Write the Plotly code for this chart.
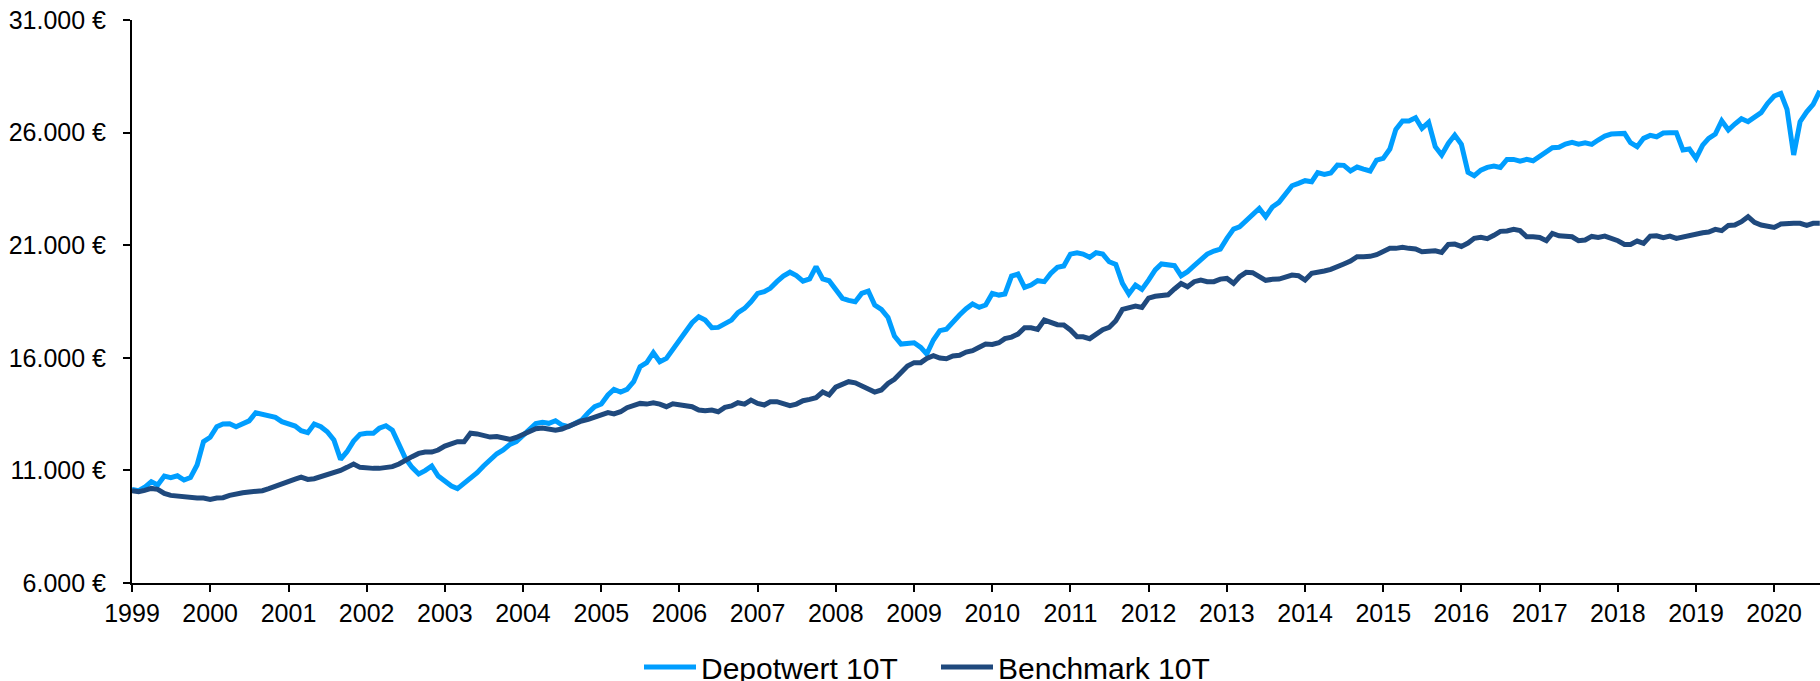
import pandas as pd
import plotly.graph_objects as go

# Monthly values, Jan 1999 .. Aug 2020
depotwert = [
    10150, 10100, 10250, 10500, 10350, 10750, 10680, 10760, 10570, 10680, 11240, 12275,  # 1999
    12470, 12940, 13060, 13075, 12940, 13060, 13200, 13560, 13500, 13470, 13355, 13165,  # 2000
    13090, 12970, 12760, 12675, 13060, 12940, 12720, 12350, 11490, 11830, 12300, 12600,  # 2001
    12645, 12645, 12870, 12985, 12790, 12200, 11535, 11135, 10840, 10990, 11195, 10750,  # 2002
    10500, 10305, 10190, 10425, 10690, 10900, 11195, 11460, 11740, 11905, 12155, 12275,  # 2003
    12570, 12865, 13075, 13135, 13090, 13205, 13015, 12940, 13060, 13235, 13565, 13830,  # 2004
    13950, 14350, 14600, 14480, 14600, 14940, 15605, 15785, 16225, 15825, 15975, 16345,  # 2005
    16790, 17190, 17560, 17825, 17675, 17335, 17350, 17530, 17675, 18005, 18195, 18490,  # 2006
    18860, 18935, 19085, 19380, 19630, 19800, 19650, 19400, 19500, 20050, 19500, 19420,  # 2007
    19010, 18640, 18550, 18490, 18860, 18965, 18345, 18150, 17795, 16965, 16610, 16640,  # 2008
    16670, 16465, 16165, 16790, 17205, 17265, 17605, 17900, 18180, 18390, 18240, 18345,  # 2009
    18860, 18785, 18830, 19630, 19720, 19125, 19230, 19425, 19380, 19750, 20015, 20075,  # 2010
    20605, 20665, 20605, 20460, 20665, 20605, 20265, 20150, 19305, 18830, 19230, 19040,  # 2011
    19450, 19900, 20165, 20120, 20090, 19645, 19825, 20090, 20325, 20605, 20740, 20830,  # 2012
    21305, 21715, 21820, 22115, 22415, 22635, 22265, 22695, 22900, 23225, 23640, 23745,  # 2013
    23865, 23820, 24220, 24145, 24205, 24560, 24545, 24295, 24470, 24380, 24295, 24780,  # 2014
    24855, 25270, 26145, 26515, 26515, 26660, 26185, 26455, 25375, 25005, 25520, 25890,  # 2015
    25475, 24235, 24085, 24335, 24455, 24515, 24455, 24810, 24810, 24735, 24810, 24750,  # 2016
    24960, 25165, 25330, 25345, 25490, 25565, 25490, 25550, 25475, 25670, 25845, 25935,  # 2017
    25935, 25965, 25550, 25375, 25745, 25875, 25815, 25980, 25995, 25995, 25225, 25270,  # 2018
    24855, 25445, 25745, 25935, 26525, 26115, 26380, 26615, 26485, 26675, 26885, 27295,  # 2019
    27625, 27740, 27030, 25005, 26485, 26925, 27255, 27850,                              # 2020
]

benchmark = [
    10100, 10055, 10115, 10200, 10160, 9980, 9890, 9850, 9805, 9775, 9775, 9775,         # 1999
    9715, 9775, 9790, 9890, 9965, 10010, 10040, 10055, 10100, 10190, 10305, 10440,       # 2000
    10545, 10615, 10705, 10600, 10630, 10720, 10780, 10900, 11000, 11135, 11285, 11135,  # 2001
    11090, 11090, 11090, 11135, 11165, 11285, 11460, 11610, 11755, 11815, 11815, 11905,  # 2002
    12080, 12200, 12275, 12275, 12650, 12620, 12560, 12480, 12500, 12425, 12380, 12465,  # 2003
    12615, 12720, 12850, 12880, 12810, 12780, 12835, 12970, 13090, 13195, 13265, 13355,  # 2004
    13460, 13565, 13505, 13605, 13785, 13875, 13975, 13945, 14005, 13945, 13830, 13960,  # 2005
    13920, 13905, 13830, 13680, 13650, 13680, 13605, 13800, 13860, 14005, 13945, 14125,  # 2006
    13975, 13905, 14050, 14050, 13975, 13875, 13945, 14095, 14155, 14230, 14480, 14350,  # 2007
    14700, 14835, 14940, 14890, 14760, 14600, 14480, 14570, 14865, 15045, 15310, 15635,  # 2008
    15785, 15785, 15975, 16095, 15990, 15960, 16080, 16110, 16255, 16315, 16465, 16610,  # 2009
    16595, 16670, 16850, 16920, 17055, 17335, 17335, 17265, 17675, 17590, 17470, 17455,  # 2010
    17235, 16935, 16935, 16850, 17040, 17250, 17350, 17645, 18150, 18225, 18300, 18240,  # 2011
    18650, 18730, 18770, 18800, 19055, 19300, 19155, 19380, 19455, 19380, 19380, 19495,  # 2012
    19525, 19305, 19600, 19795, 19780, 19600, 19440, 19485, 19495, 19585, 19675, 19645,  # 2013
    19455, 19750, 19825, 19855, 19925, 20075, 20165, 20295, 20490, 20490, 20505, 20580,  # 2014
    20710, 20860, 20860, 20905, 20860, 20830, 20710, 20755, 20755, 20680, 21035, 21050,  # 2015
    20945, 21095, 21305, 21350, 21290, 21440, 21615, 21630, 21705, 21650, 21375, 21375,  # 2016
    21345, 21200, 21525, 21420, 21420, 21375, 21200, 21230, 21390, 21345, 21405, 21305,  # 2017
    21200, 21035, 21035, 21185, 21080, 21405, 21420, 21335, 21405, 21305, 21375, 21450,  # 2018
    21525, 21555, 21585, 21705, 21645, 21880, 21895, 22045, 22265, 22015, 21895, 21865,  # 2019
    21790, 21940, 21970, 21970, 21970, 21880, 21970, 21970,                              # 2020
]

months = pd.date_range("1999-01-01", periods=len(depotwert), freq="MS")

series_names = ["Depotwert 10T", "Benchmark 10T"]
series_colors = ["#009EFF", "#1F497D"]

y_tickvals = [6000, 11000, 16000, 21000, 26000, 31000]
y_ticktext = ["6.000 €", "11.000 €", "16.000 €", "21.000 €", "26.000 €", "31.000 €"]
x_years = list(range(1999, 2021))

fig = go.Figure()
for name, vals, col in zip(series_names, [depotwert, benchmark], series_colors):
    fig.add_trace(go.Scatter(
        x=months, y=vals, mode="lines", name=name,
        line=dict(color=col, width=5),
        hoverinfo="skip",
    ))

font_family = "Liberation Sans, Arial, sans-serif"

fig.update_layout(
    width=1820, height=681,
    margin=dict(l=132, r=0, t=20, b=98, pad=0, autoexpand=False),
    paper_bgcolor="white", plot_bgcolor="white",
    font=dict(family=font_family, color="black", size=25),
    showlegend=True,
    legend=dict(
        orientation="h",
        xref="container", yref="container",
        x=0.3511, xanchor="left",
        y=0.0206, yanchor="middle",
        font=dict(family=font_family, size=30, color="black"),
        itemwidth=52,
        entrywidth=230, entrywidthmode="pixels",
        bgcolor="rgba(0,0,0,0)",
    ),
    xaxis=dict(
        type="date",
        range=["1999-01-01", "2020-08-02"],
        tickvals=[f"{y}-01-01" for y in x_years],
        ticktext=[str(y) for y in x_years],
        ticks="outside", ticklen=7, tickwidth=1.5, tickcolor="black",
        showline=True, linecolor="black", linewidth=2,
        showgrid=False, zeroline=False, automargin=False,
        tickfont=dict(size=25, family=font_family),
        ticklabelstandoff=0, ticklabeloverflow="allow",
    ),
    yaxis=dict(
        range=[6000, 31000],
        tickvals=y_tickvals, ticktext=y_ticktext,
        ticks="outside", ticklen=7, tickwidth=1.5, tickcolor="black",
        showline=True, linecolor="black", linewidth=2,
        showgrid=False, zeroline=False, automargin=False,
        tickfont=dict(size=25, family=font_family),
        ticklabelstandoff=12, ticklabeloverflow="allow",
    ),
)

# remove the default 8px page margin so the figure fills the window exactly
fig.write_html(
    "out.html",
    config={"displayModeBar": False},
    post_script="document.body.style.margin='0';document.body.style.overflow='hidden';",
)
